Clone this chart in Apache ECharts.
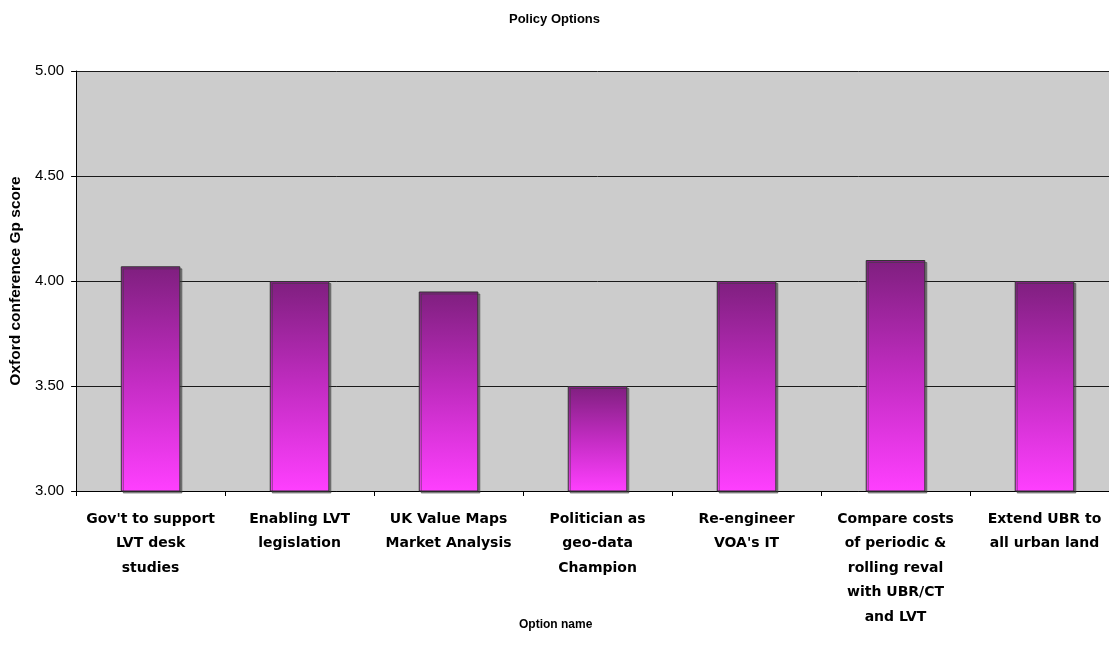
<!DOCTYPE html>
<html>
<head>
<meta charset="utf-8">
<title>Policy Options</title>
<script src="https://cdn.jsdelivr.net/npm/echarts@6/dist/echarts.min.js"></script>
<style>
  html, body { margin: 0; padding: 0; background: #ffffff; overflow: hidden; }
  #chart { width: 1120px; height: 663px; }
</style>
</head>
<body>
<div id="chart"></div>
<script>
// Policy options and their scores
const categories = [
  "Gov't to support\nLVT desk\nstudies",
  "Enabling LVT\nlegislation",
  "UK Value Maps\nMarket Analysis",
  "Politician as\ngeo-data\nChampion",
  "Re-engineer\nVOA's IT",
  "Compare costs\nof periodic &\nrolling reval\nwith UBR/CT\nand LVT",
  "Extend UBR to\nall urban land"
];
const scores = [4.07, 4.00, 3.95, 3.50, 4.00, 4.10, 4.00];

const yMin = 3;
const yMax = 5;
const yStep = 0.5;

const FONT = '"Liberation Sans", Arial, sans-serif';
const LABEL_FONT = '"DejaVu Sans", Verdana, sans-serif';

const chart = echarts.init(document.getElementById('chart'), null, { renderer: 'canvas' });

chart.setOption({
  animation: false,
  backgroundColor: '#ffffff',
  title: {
    text: 'Policy Options',
    left: 504,
    top: 8,
    textStyle: { fontFamily: FONT, fontSize: 13, fontWeight: 'bold', color: '#000' }
  },
  graphic: [{
    type: 'text',
    left: 519,
    top: 619,
    style: {
      text: 'Option name',
      font: 'bold 12px "Liberation Sans", Arial, sans-serif',
      fill: '#000'
    }
  }],
  grid: {
    left: 76,
    top: 71,
    width: 1043,
    height: 420,
    show: true,
    backgroundColor: '#cccccc',
    borderWidth: 0,
    containLabel: false
  },
  xAxis: {
    type: 'category',
    data: categories,
    axisLine: { show: true, lineStyle: { color: '#000', width: 1 } },
    axisTick: { show: true, alignWithLabel: false, length: 5, lineStyle: { color: '#000' } },
    axisLabel: {
      interval: 0,
      margin: 16,
      fontFamily: LABEL_FONT,
      fontSize: 14,
      fontWeight: 'bold',
      color: '#000',
      lineHeight: 24.5
    },
    splitLine: { show: false }
  },
  yAxis: {
    type: 'value',
    min: yMin,
    max: yMax,
    interval: yStep,
    name: 'Oxford conference Gp score',
    nameLocation: 'middle',
    nameGap: 51,
    nameTextStyle: { fontFamily: FONT, fontSize: 15.5, fontWeight: 'bold', color: '#000' },
    axisLine: { show: true, lineStyle: { color: '#000', width: 1 } },
    axisTick: { show: true, length: 5, lineStyle: { color: '#000' } },
    axisLabel: {
      margin: 12,
      fontFamily: FONT,
      fontSize: 15,
      color: '#000',
      formatter: v => v.toFixed(2)
    },
    splitLine: { show: true, lineStyle: { color: '#1a1a1a', width: 1 } }
  },
  series: [{
    type: 'bar',
    data: scores,
    barWidth: '40%',
    itemStyle: {
      color: new echarts.graphic.LinearGradient(0, 0, 0, 1, [
        { offset: 0, color: '#7f1f7f' },
        { offset: 0.5, color: '#c22cc2' },
        { offset: 1, color: '#ff3fff' }
      ]),
      borderColor: '#333333',
      borderWidth: 1,
      shadowColor: 'rgba(60,60,60,0.55)',
      shadowOffsetX: 2,
      shadowOffsetY: 2,
      shadowBlur: 0
    }
  }]
});
</script>
</body>
</html>
